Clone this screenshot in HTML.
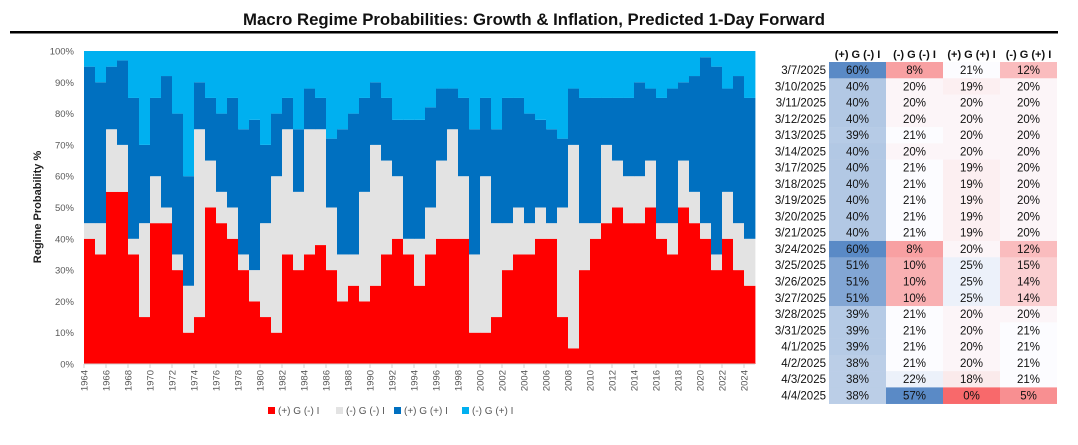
<!DOCTYPE html>
<html><head><meta charset="utf-8"><style>
body{margin:0;background:#fff;width:1078px;height:445px;overflow:hidden;font-family:"Liberation Sans",sans-serif;}
svg{display:block}
</style></head><body>
<svg id="c" width="1078" height="445" xmlns="http://www.w3.org/2000/svg">
<text x="534" y="25" text-anchor="middle" font-size="17" font-weight="bold" fill="#111" textLength="582" lengthAdjust="spacingAndGlyphs">Macro Regime Probabilities: Growth &amp; Inflation, Predicted 1-Day Forward</text>
<rect x="10" y="31" width="1048" height="2.5" fill="#000"/>
<g id="plot"></g><g id="axes"></g><g id="legend"></g><g id="table"></g>
<text transform="translate(41,207) rotate(-90)" text-anchor="middle" font-size="11" font-weight="bold" fill="#222">Regime Probability %</text>
</svg>
<script>
const years=[1964,1965,1966,1967,1968,1969,1970,1971,1972,1973,1974,1975,1976,1977,1978,1979,1980,1981,1982,1983,1984,1985,1986,1987,1988,1989,1990,1991,1992,1993,1994,1995,1996,1997,1998,1999,2000,2001,2002,2003,2004,2005,2006,2007,2008,2009,2010,2011,2012,2013,2014,2015,2016,2017,2018,2019,2020,2021,2022,2023,2024];
// cumulative tops (%)
const redTop=[40,35,55,55,35,15,45,45,30,10,15,50,45,40,30,20,15,10,35,30,35,38,30,20,25,20,25,35,40,35,25,35,40,40,40,10,10,15,30,35,35,40,40,15,5,30,40,45,50,45,45,50,40,35,50,45,40,30,40,30,25];
const grayTop=[45,45,75,70,40,45,60,50,35,25,75,65,55,50,35,30,45,60,75,55,75,75,50,35,35,55,70,65,60,40,40,50,65,75,60,35,60,45,45,50,45,50,45,50,70,45,45,70,65,60,60,65,45,45,65,55,45,35,55,45,40];
const blueTop=[95,90,95,97,85,70,85,92,80,60,90,85,80,85,75,78,70,80,85,75,88,85,72,75,80,85,90,85,78,78,78,82,88,88,85,75,85,75,85,85,80,78,75,72,88,85,85,85,85,85,90,88,85,88,90,92,98,95,88,92,85];
const yTicks=[0,10,20,30,40,50,60,70,80,90,100];
const xTicks=[1964,1966,1968,1970,1972,1974,1976,1978,1980,1982,1984,1986,1988,1990,1992,1994,1996,1998,2000,2002,2004,2006,2008,2010,2012,2014,2016,2018,2020,2022,2024];
const seriesNames=["(+) G (-) I","(-) G (-) I","(+) G (+) I","(-) G (+) I"];
const colors=["#ff0000","#e3e3e3","#0070c0","#00b0f0"];
const dates=["3/7/2025","3/10/2025","3/11/2025","3/12/2025","3/13/2025","3/14/2025","3/17/2025","3/18/2025","3/19/2025","3/20/2025","3/21/2025","3/24/2025","3/25/2025","3/26/2025","3/27/2025","3/28/2025","3/31/2025","4/1/2025","4/2/2025","4/3/2025","4/4/2025"];
const colA=[60,40,40,40,39,40,40,40,40,40,40,60,51,51,51,39,39,39,38,38,38];
const colB=[8,20,20,20,21,20,21,21,21,21,21,8,10,10,10,21,21,21,21,22,57];
const colC=[21,19,20,20,20,20,19,19,19,19,19,20,25,25,25,20,20,20,20,18,0];
const colD=[12,20,20,20,20,20,20,20,20,20,20,12,15,14,14,20,21,21,21,21,5];

const NS="http://www.w3.org/2000/svg";
function mk(tag,attrs,parent){const e=document.createElementNS(NS,tag);for(const k in attrs)e.setAttribute(k,attrs[k]);parent.appendChild(e);return e;}
const X0=84,PXY=11,Y0=364,PPCT=3.13;
const xs=y=>X0+(y-1964)*PXY;
const ys=p=>Y0-p*PPCT;
const plot=document.getElementById('plot');
const tops=[redTop,grayTop,blueTop];
years.forEach((yr,i)=>{
  let prev=0;
  for(let s=0;s<4;s++){
    const top=s<3?tops[s][i]:100;
    const r=mk('rect',{x:xs(yr),y:ys(top),width:PXY+0.4,height:Math.max(0,ys(prev)-ys(top)),fill:colors[s]},plot);
    
    
    prev=top;
  }
});
const axes=document.getElementById('axes');
const xEnd=xs(2024)+PXY;
const ax=mk('line',{x1:X0,x2:xEnd,y1:Y0,y2:Y0,stroke:'#d0d0d0','stroke-width':1},axes);


yTicks.forEach(t=>{
  const tx=mk('text',{x:74,y:ys(t)+3.5,'text-anchor':'end','font-size':'9.5',fill:'#595959'},axes);
  tx.textContent=t+'%';
  
  
});
xTicks.forEach(t=>{
  const x=xs(t);
  const l=mk('line',{x1:x,x2:x,y1:Y0,y2:Y0+4,stroke:'#d0d0d0'},axes);
  
  
  const tx=mk('text',{transform:`translate(${x+3.5},${Y0+6}) rotate(-90)`,'text-anchor':'end','font-size':'9.5',fill:'#595959'},axes);
  tx.textContent=t;
  
  
});
const lg=document.getElementById('legend');
const lgx=[268,336,394,462];
seriesNames.forEach((n,i)=>{
  const r=mk('rect',{x:lgx[i],y:407,width:7,height:7,fill:colors[i]},lg);
  
  
  const t=mk('text',{x:lgx[i]+10,y:414,'font-size':'10',fill:'#595959'},lg);
  t.textContent=n;
  
  
});
// table
const tb=document.getElementById('table');
const colX=[829,886,943,1000],CW=57,RT=62,RH=16.27;
function mix(a,b,t){return 'rgb('+a.map((v,i)=>Math.round(v+(b[i]-v)*t)).join(',')+')';}
const W=[252,252,255],BL=[90,138,198],RD=[248,105,107];
function cellColor(v,vals){const mn=Math.min(...vals),mx=Math.max(...vals),mid=(()=>{const s=[...vals].sort((a,b)=>a-b);return s[Math.floor(s.length/2)];})();
  if(v>=mid)return mix(W,BL,mx>mid?(v-mid)/(mx-mid):0);return mix(W,RD,(mid-v)/(mid-mn||1));}
const colsAll=[colA,colB,colC,colD];
const allVals=[...colA,...colB,...colC,...colD];
seriesNames.forEach((n,c)=>{
  const t=mk('text',{x:colX[c]+CW/2,y:58,'text-anchor':'middle','font-size':'11','font-weight':'bold',fill:'#111'},tb);
  t.textContent=n;
  
  
});
dates.forEach((d,r)=>{
  const y=RT+r*RH;
  const t=mk('text',{x:826,y:y+12,'text-anchor':'end','font-size':'11.5',fill:'#111'},tb);
  t.textContent=d;
  
  
  colsAll.forEach((col,c)=>{
    const v=col[r];
    let fill;
    if(c===0){fill=mix([200,215,236],BL,Math.max(0,(v-35)/25));}
    else fill=cellColor(v,allVals.filter(x=>true));
    if(c>0){ if(v>=30) fill=mix(W,BL,Math.min(1,(v-20)/37)); else if(v>=19) fill=mix(W,[252,232,234],Math.max(0,(21-v)/3)); else if(v>=18) fill='rgb(250,234,235)'; else fill=mix([252,210,212],RD,Math.min(1,(15-v)/15)); if(v>=22&&v<30) fill='rgb(236,241,250)'; if(v===15||v===14) fill='rgb(251,208,210)'; if(v===10) fill='rgb(249,176,178)'; if(v===12) fill='rgb(250,188,190)'; if(v===8) fill='rgb(248,160,162)'; if(v===5) fill='rgb(248,143,145)'; if(v===0) fill='rgb(248,105,107)';}
    const rc=mk('rect',{x:colX[c],y:y,width:CW,height:RH+0.3,fill:fill},tb);
    
    
    const tx=mk('text',{x:colX[c]+CW/2,y:y+12,'text-anchor':'middle','font-size':'11.5',fill:'#111'},tb);
    tx.textContent=v+'%';
    
    
  });
});
</script>
</body></html>
